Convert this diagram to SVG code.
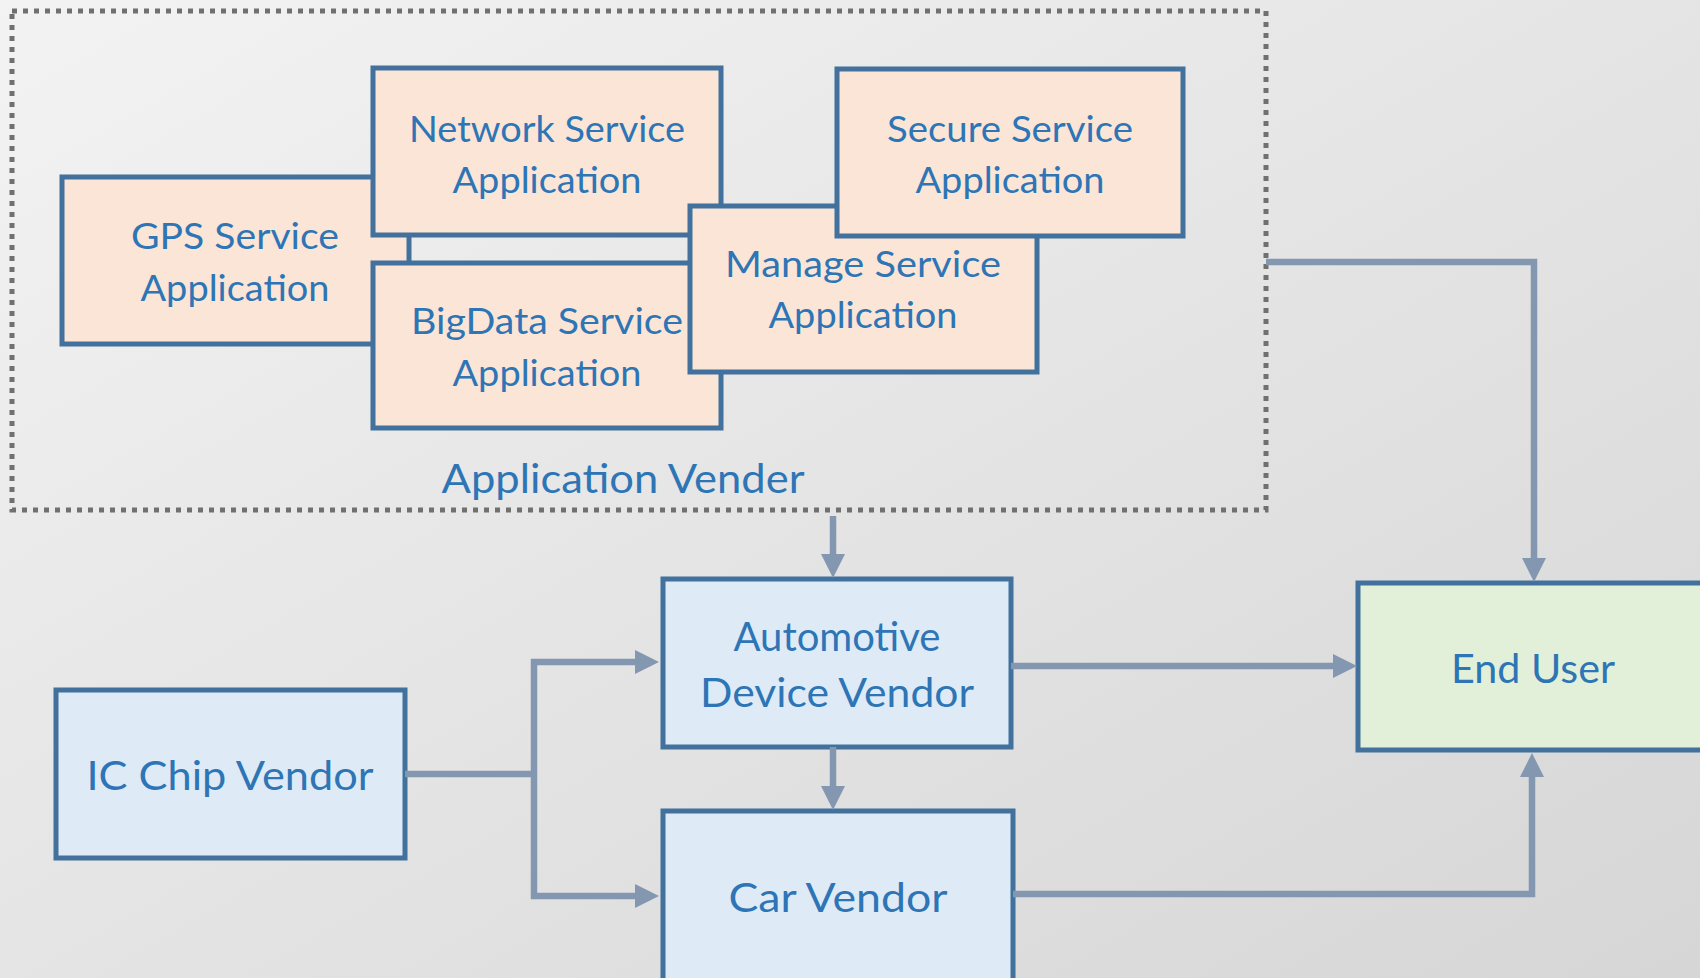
<svg xmlns="http://www.w3.org/2000/svg" width="1700" height="978" viewBox="0 0 1700 978">
  <defs>
    <linearGradient id="bg" x1="0" y1="0" x2="1" y2="1">
      <stop offset="0" stop-color="#F3F3F3"/>
      <stop offset="1" stop-color="#D6D6D6"/>
    </linearGradient>
    <marker id="arrow" markerUnits="userSpaceOnUse" markerWidth="24" markerHeight="24" refX="1" refY="12" orient="auto">
      <path d="M0,0 L24,12 L0,24 z" fill="#8497B0"/>
    </marker>
    <style>
      .box { stroke: #41719C; stroke-width: 5; }
      .app { fill: #FBE5D6; }
      .vendor { fill: #DEEBF7; }
      .user { fill: #E2F0D9; }
      .label { font-family: "Lato", "Liberation Sans", sans-serif; fill: #2E75B6; text-anchor: middle; }
      .small { font-size: 36px; }
      .big { font-size: 40px; }
      .link { fill: none; stroke: #8497B0; stroke-width: 6.5; }
      .group { fill: none; stroke: #707070; stroke-width: 5; stroke-dasharray: 5 6; }
    </style>
  </defs>

  <rect x="0" y="0" width="1700" height="978" fill="url(#bg)"/>

  <!-- application vendor group -->
  <g id="application-vender">
    <rect class="group" x="12" y="11" width="1254" height="499"/>
    <text class="label big" x="623" y="493" textLength="363" lengthAdjust="spacingAndGlyphs">Application Vender</text>
  </g>

  <g id="gps">
    <rect class="box app" x="62" y="177" width="347" height="167"/>
    <text class="label small" x="235" y="249" textLength="208" lengthAdjust="spacingAndGlyphs">GPS Service</text>
    <text class="label small" x="235" y="301" textLength="189" lengthAdjust="spacingAndGlyphs">Application</text>
  </g>

  <g id="network">
    <rect class="box app" x="373" y="68" width="348" height="167"/>
    <text class="label small" x="547" y="142" textLength="276" lengthAdjust="spacingAndGlyphs">Network Service</text>
    <text class="label small" x="547" y="193" textLength="189" lengthAdjust="spacingAndGlyphs">Application</text>
  </g>

  <g id="bigdata">
    <rect class="box app" x="373" y="263" width="348" height="165"/>
    <text class="label small" x="547" y="334" textLength="272" lengthAdjust="spacingAndGlyphs">BigData Service</text>
    <text class="label small" x="547" y="386" textLength="189" lengthAdjust="spacingAndGlyphs">Application</text>
  </g>

  <g id="manage">
    <rect class="box app" x="690" y="206" width="347" height="166"/>
    <text class="label small" x="863" y="277" textLength="276" lengthAdjust="spacingAndGlyphs">Manage Service</text>
    <text class="label small" x="863" y="328" textLength="189" lengthAdjust="spacingAndGlyphs">Application</text>
  </g>

  <g id="secure">
    <rect class="box app" x="837" y="69" width="346" height="167"/>
    <text class="label small" x="1010" y="142" textLength="246" lengthAdjust="spacingAndGlyphs">Secure Service</text>
    <text class="label small" x="1010" y="193" textLength="189" lengthAdjust="spacingAndGlyphs">Application</text>
  </g>

  <g id="ic-chip">
    <rect class="box vendor" x="56" y="690" width="349" height="168"/>
    <text class="label big" x="230" y="790" textLength="287" lengthAdjust="spacingAndGlyphs">IC Chip Vendor</text>
  </g>

  <g id="automotive">
    <rect class="box vendor" x="663" y="579" width="348" height="168"/>
    <text class="label big" x="837" y="651" textLength="207" lengthAdjust="spacingAndGlyphs">Automotive</text>
    <text class="label big" x="837" y="707" textLength="274" lengthAdjust="spacingAndGlyphs">Device Vendor</text>
  </g>

  <g id="car">
    <rect class="box vendor" x="663" y="811" width="350" height="185"/>
    <text class="label big" x="838" y="912" textLength="219" lengthAdjust="spacingAndGlyphs">Car Vendor</text>
  </g>

  <g id="end-user">
    <rect class="box user" x="1358" y="583" width="350" height="167"/>
    <text class="label big" x="1533" y="683" textLength="164" lengthAdjust="spacingAndGlyphs">End User</text>
  </g>

  <!-- connectors -->
  <g id="connectors">
    <path class="link" d="M833,516 V555" marker-end="url(#arrow)"/>
    <path class="link" d="M833,747 V787" marker-end="url(#arrow)"/>
    <path class="link" d="M405,774 H534 M534,659 V899"/>
    <path class="link" d="M531,662 H636" marker-end="url(#arrow)"/>
    <path class="link" d="M531,896 H636" marker-end="url(#arrow)"/>
    <path class="link" d="M1011,666 H1334" marker-end="url(#arrow)"/>
    <path class="link" d="M1013,894 H1532 V776" marker-end="url(#arrow)"/>
    <path class="link" d="M1266,262 H1534 V559" marker-end="url(#arrow)"/>
  </g>
</svg>
